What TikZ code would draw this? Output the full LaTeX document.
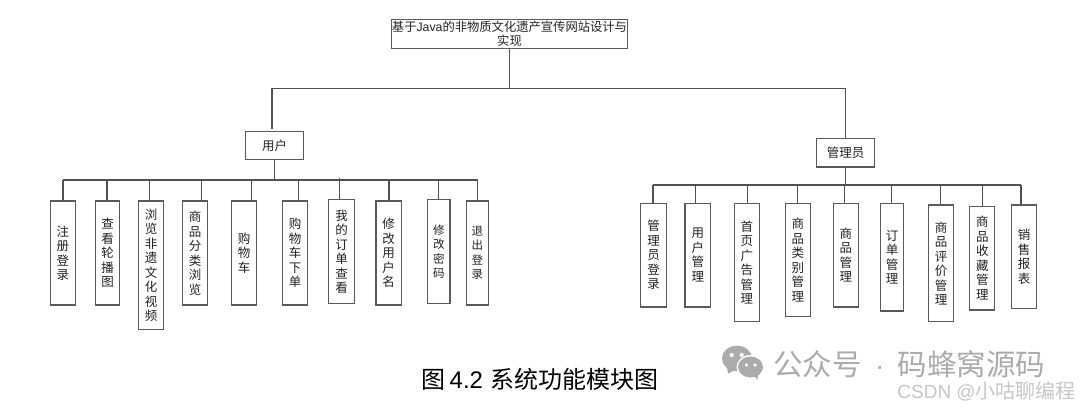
\documentclass[tikz,border=0pt]{standalone}
\usepackage{fontspec}
\setmainfont{Noto Sans CJK SC}
\newfontfamily\latf{Liberation Sans}
\definecolor{ln}{HTML}{505050}
\definecolor{bx}{HTML}{5A5A5A}
\definecolor{tx}{HTML}{222222}
\definecolor{wm}{HTML}{ABABAB}
\definecolor{wmb}{HTML}{C6C6C6}
\tikzset{
  boxnode/.style={draw=bx,line width=1.05pt,fill=white,inner sep=0pt,align=center,text=tx,font=\fontsize{12.5}{14.5}\selectfont},
  smallbox/.style={boxnode,font=\fontsize{11.5}{14.5}\selectfont},
  rootbox/.style={boxnode,font=\fontsize{12.3}{14}\selectfont},
  conn/.style={draw=ln,line width=1.05pt},
  busline/.style={draw=ln,line width=1.15pt},
}
\newcommand{\mybox}[7][boxnode]{% style, name, x0, x1, y0, y1, text
  \node[#1,minimum width=#4-#3,minimum height=#6-#5] (#2) at ({(#3+#4)/2},{(#5+#6)/2}) {#7};}
\begin{document}
\begin{tikzpicture}[x=1pt,y=-1pt]
\useasboundingbox[fill=white] (0,0) rectangle (1080,408);
% top
\mybox[rootbox]{root}{392}{627}{19.7}{48.3}{基于{\latf Java}的非物质文化遗产宣传网站设计与\\实现}
\mybox{user}{245.5}{303.5}{131.3}{159.7}{用户}
\mybox{admin}{816.5}{874.7}{138.7}{167}{管理员}
% user children
\mybox{a1}{50.3}{75.4}{201}{305}{注\\册\\登\\录}
\mybox{a2}{95.7}{119.5}{201}{305}{查\\看\\轮\\播\\图}
\mybox{a3}{138.8}{163.6}{201}{329.5}{浏\\览\\非\\遗\\文\\化\\视\\频}
\mybox{a4}{182.5}{207.6}{201}{305}{商\\品\\分\\类\\浏\\览}
\mybox{a5}{231.7}{256.5}{201}{305}{购\\物\\车}
\mybox{a6}{282.7}{307.5}{201}{305}{购\\物\\车\\下\\单}
\mybox{a7}{328.9}{354.3}{199.7}{303.7}{我\\的\\订\\单\\查\\看}
\mybox{a8}{376}{401.2}{201}{305}{修\\改\\用\\户\\名}
\mybox[smallbox]{a9}{427.7}{450}{199.7}{303.7}{修\\改\\密\\码}
\mybox[smallbox]{a10}{466.3}{488.6}{201}{305}{退\\出\\登\\录}
% admin children
\mybox{b1}{640.9}{666.4}{203.3}{307}{管\\理\\员\\登\\录}
\mybox{b2}{685}{710.5}{203.3}{307}{用\\户\\管\\理}
\mybox{b3}{734.2}{759.7}{203.3}{321.7}{首\\页\\广\\告\\管\\理}
\mybox{b4}{785.2}{810.3}{203.3}{316.3}{商\\品\\类\\别\\管\\理}
\mybox{b5}{833.4}{858.2}{203.3}{307}{商\\品\\管\\理}
\mybox{b6}{880.6}{903.6}{203.3}{311}{订\\单\\管\\理}
\mybox{b7}{928.4}{953.6}{205}{321.7}{商\\品\\评\\价\\管\\理}
\mybox{b8}{969.8}{994.9}{206.3}{310}{商\\品\\收\\藏\\管\\理}
\mybox{b9}{1011.8}{1036.6}{205}{308.7}{销\\售\\报\\表}
% top connectors
\coordinate (rbus) at (root.south |- 0,88.4);
\coordinate (uend) at (272,129);
\draw[conn] (root.south) -- (rbus);
\draw[conn] (uend) |- (rbus) -| (admin.north);
% user bus
\coordinate (ubus) at (user.south |- 0,180);
\draw[busline,line width=1.3pt] (user.south) -- (ubus);
\foreach \n/\x in {a1/63,a2/107,a3/149.8,a4/201.8,a5/251.7,a6/298.6,a8/389,a9/438.4,a10/477.6}{
  \coordinate (t\n) at (\x,180);
  \draw[conn] (t\n) -- (t\n |- \n.north);
}
\coordinate (ta7) at (339.5,177.5);
\draw[conn] (ta7) -- (ta7 |- a7.north);
\draw[busline] (ta1) -- (ubus) -- (ta10 |- ubus);
% admin bus
\coordinate (abus) at (admin.south |- 0,185);
\draw[busline,line width=1.3pt] (admin.south) -- (abus);
\foreach \n/\x in {b1/653,b2/695.3,b3/747.6,b4/797.2,b5/844.4,b6/891.9,b7/940.5,b8/982.5,b9/1021}{
  \coordinate (t\n) at (\x,185);
  \draw[conn] (t\n) -- (t\n |- \n.north);
}
\draw[busline] (tb1) -- (tb9);
% caption
\node[inner sep=0pt,anchor=west,font=\fontsize{24}{26}\selectfont,text=black] (cap) at (421.5,379) {图\hspace{4pt}{\latf 4.2}\hspace{7pt}系统功能模块图};
% watermark icon
\fill[wm] (737,358.5) ellipse [x radius=15,y radius=12.8];
\fill[wm] (727,367) -- (728,373.5) -- (735,370) -- cycle;
\fill[white] (750.5,367) ellipse [x radius=14,y radius=12];
\fill[wm] (750.5,367) ellipse [x radius=12.5,y radius=10.5];
\fill[wm] (754,376) -- (757.5,380) -- (758,373) -- cycle;
\fill[white] (731.7,355) circle (2.1) (741.7,355) circle (2.1) (746.5,365) circle (1.8) (755,365) circle (1.8);
\node[inner sep=0pt,anchor=west,font=\fontsize{29.5}{31}\selectfont,text=wm] (wm1) at (773,364) {公众号\makebox[36pt]{\fontsize{28}{30}\selectfont\latf ·}码蜂窝源码};
\node[inner sep=0pt,anchor=east,font=\fontsize{20}{22}\selectfont,text=wmb] (wm2) at (1076,391.5) {{\fontsize{19}{22}\selectfont\latf CSDN @}小咕聊编程};
\end{tikzpicture}
\end{document}
